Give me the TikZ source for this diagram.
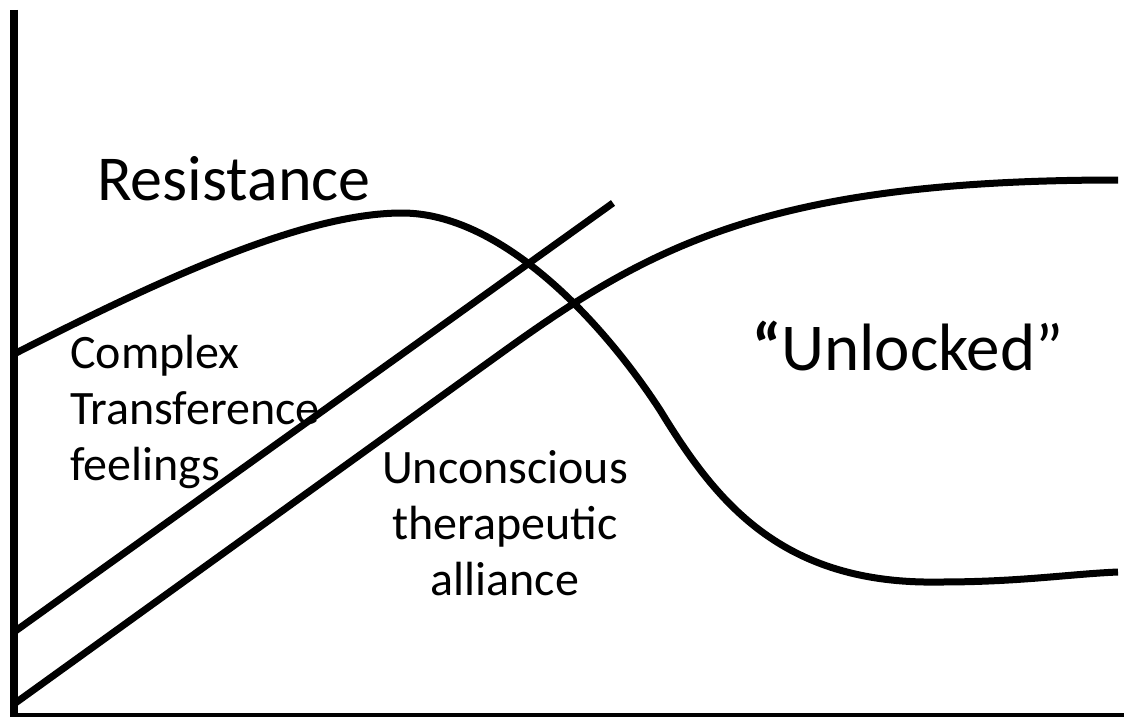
\documentclass[tikz,border=0pt]{standalone}
\usepackage{fontspec}
\setmainfont{Carlito}
\begin{document}
\begin{tikzpicture}[x=1pt,y=-1pt,
  axis/.style={line width=8pt},
  trend/.style={line width=7pt, line join=round},
  big/.style={font=\fontsize{64}{76}\selectfont, inner sep=0pt},
  bigger/.style={font=\fontsize{67}{80}\selectfont, inner sep=0pt},
  small/.style={font=\fontsize{48}{56}\selectfont, inner sep=0pt}]
\useasboundingbox (0,0) rectangle (1124,717);
\fill[white] (0,0) rectangle (1124,717);

% axes
\draw[axis] (14,10) -- (14,717) -- (1124,717);

% resistance: rises, peaks, falls away, settles low
\draw[trend] (14,354) .. controls (150,285) and (300,213) .. (402,213)
  .. controls (500,213) and (600,318) .. (660,410)
  .. controls (715,500) and (780,585) .. (940,582)
  .. controls (1020,582) and (1070,574) .. (1118,572);

% transference: straight rise
\draw[trend] (14,632) -- (613,203);

% alliance: straight rise that levels off
\draw[trend] (14,704) -- (500,354)
  .. controls (650,246) and (768,180) .. (1118,180);

% labels
\node[big, anchor=base west] (res) at (97,200) {Resistance};
\node[bigger, anchor=base west] (unl) at (752,370) {{\bfseries “}Unlocked”};
\node[small, anchor=base west, align=left] (ctf) at (70,480)
  {Complex\\Transference\\feelings};
\node[small, anchor=base, align=center] (uta) at (505,595)
  {Unconscious\\therapeutic\\alliance};
\end{tikzpicture}
\end{document}
